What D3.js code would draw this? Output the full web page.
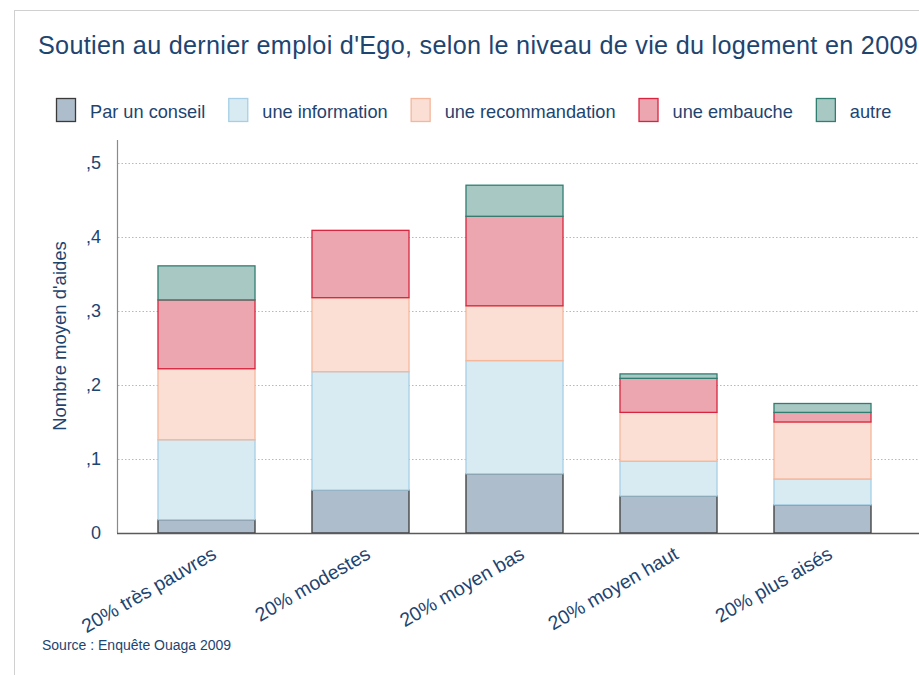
<!DOCTYPE html>
<html>
<head>
<meta charset="utf-8">
<script src="https://cdn.jsdelivr.net/npm/d3@7"></script>
<style>
  body { margin: 0; background: #fff; }
  text { font-family: "Liberation Sans", Arial, sans-serif; fill: #1e4470; }
</style>
</head>
<body>
<svg id="chart" width="919" height="675"></svg>
<script>
// Categories and series values
const categories = ["20% très pauvres", "20% modestes", "20% moyen bas", "20% moyen haut", "20% plus aisés"];
const seriesNames = ["Par un conseil", "une information", "une recommandation", "une embauche", "autre"];
const conseil        = [0.018, 0.058, 0.080, 0.050, 0.038];
const information    = [0.108, 0.160, 0.153, 0.047, 0.035];
const recommandation = [0.096, 0.100, 0.074, 0.066, 0.077];
const embauche       = [0.093, 0.091, 0.121, 0.046, 0.013];
const autre          = [0.046, 0.000, 0.042, 0.006, 0.012];
const yTicks = [0, 0.1, 0.2, 0.3, 0.4, 0.5];
const yTickLabels = ["0", ",1", ",2", ",3", ",4", ",5"];

const fills   = ["#aebdcb", "#d8eaf2", "#fbdfd4", "#eba6b0", "#a8c8c4"];
const strokes = ["#3a3a3a", "#a6cfe5", "#f4b79c", "#d9243f", "#2f7e70"];

const svg = d3.select("#chart");

// outer frame
svg.append("rect")
    .attr("x", 14.5).attr("y", 10.5)
    .attr("width", 1000).attr("height", 1000)
    .attr("fill", "none")
    .attr("stroke", "#d0d0d0");

// title
svg.append("text")
    .attr("x", 38).attr("y", 54)
    .style("font-size", "25.2px")
    .style("letter-spacing", "0.3px")
    .text("Soutien au dernier emploi d'Ego, selon le niveau de vie du logement en 2009");

// scales
const y = d3.scaleLinear().domain([0, 0.5]).range([533, 163]);
const x = d3.scaleBand().domain(categories).range([129.5, 899.5]).paddingInner(0.37).paddingOuter(0.185);

// gridlines
svg.append("g")
    .selectAll("line")
    .data(yTicks.slice(1))
    .join("line")
    .attr("x1", 118).attr("x2", 919)
    .attr("y1", d => Math.round(y(d)) + 0.5)
    .attr("y2", d => Math.round(y(d)) + 0.5)
    .attr("stroke", "#b8b8b8")
    .attr("stroke-dasharray", "1.5,2");

// y tick labels
svg.append("g")
    .selectAll("text")
    .data(yTicks)
    .join("text")
    .attr("x", 101)
    .attr("y", d => y(d))
    .attr("dy", "0.36em")
    .attr("text-anchor", "end")
    .style("font-size", "18px")
    .text((d, i) => yTickLabels[i]);

// axis title
svg.append("text")
    .attr("transform", "translate(66,336) rotate(-90)")
    .attr("text-anchor", "middle")
    .style("font-size", "18.5px")
    .text("Nombre moyen d'aides");

// stacked bars
const table = categories.map((c, i) => ({
    cat: c,
    s0: conseil[i], s1: information[i], s2: recommandation[i], s3: embauche[i], s4: autre[i]
}));
const keys = ["s0", "s1", "s2", "s3", "s4"];
const stacked = d3.stack().keys(keys)(table);

const layers = svg.append("g")
    .selectAll("g")
    .data(stacked)
    .join("g")
    .attr("fill", (d, i) => fills[i])
    .attr("stroke", (d, i) => strokes[i])
    .attr("stroke-width", 1.3);

layers.selectAll("rect")
    .data(d => d.filter(p => p[1] - p[0] > 0))
    .join("rect")
    .attr("x", d => x(d.data.cat))
    .attr("width", x.bandwidth())
    .attr("y", d => y(d[1]))
    .attr("height", d => y(d[0]) - y(d[1]));

// axes lines
svg.append("line")
    .attr("x1", 117.5).attr("x2", 117.5)
    .attr("y1", 140).attr("y2", 533)
    .attr("stroke", "#8a8a8a").attr("stroke-width", 1.2);
svg.append("line")
    .attr("x1", 117).attr("x2", 919)
    .attr("y1", 533.5).attr("y2", 533.5)
    .attr("stroke", "#5a5a5a").attr("stroke-width", 1.3);

// x labels
svg.append("g")
    .selectAll("text")
    .data(categories)
    .join("text")
    .attr("transform", d => `translate(${x(d) + x.bandwidth() / 2 + 4},${545}) rotate(-30)`)
    .attr("text-anchor", "end")
    .attr("dy", "0.75em")
    .style("font-size", "19.5px")
    .text(d => d);

// legend
const legend = svg.append("g");
let lx = 56;
seriesNames.forEach((name, i) => {
    legend.append("rect")
        .attr("x", lx + 0.5).attr("y", 98.5)
        .attr("width", 19).attr("height", 23)
        .attr("fill", fills[i])
        .attr("stroke", strokes[i])
        .attr("stroke-width", 1.3);
    const t = legend.append("text")
        .attr("x", lx + 34).attr("y", 117.5)
        .style("font-size", "18.2px")
        .text(name);
    lx += 34 + t.node().getComputedTextLength() + 23;
});

// source
svg.append("text")
    .attr("x", 42).attr("y", 650)
    .style("font-size", "14px")
    .text("Source : Enquête Ouaga 2009");
</script>
</body>
</html>
